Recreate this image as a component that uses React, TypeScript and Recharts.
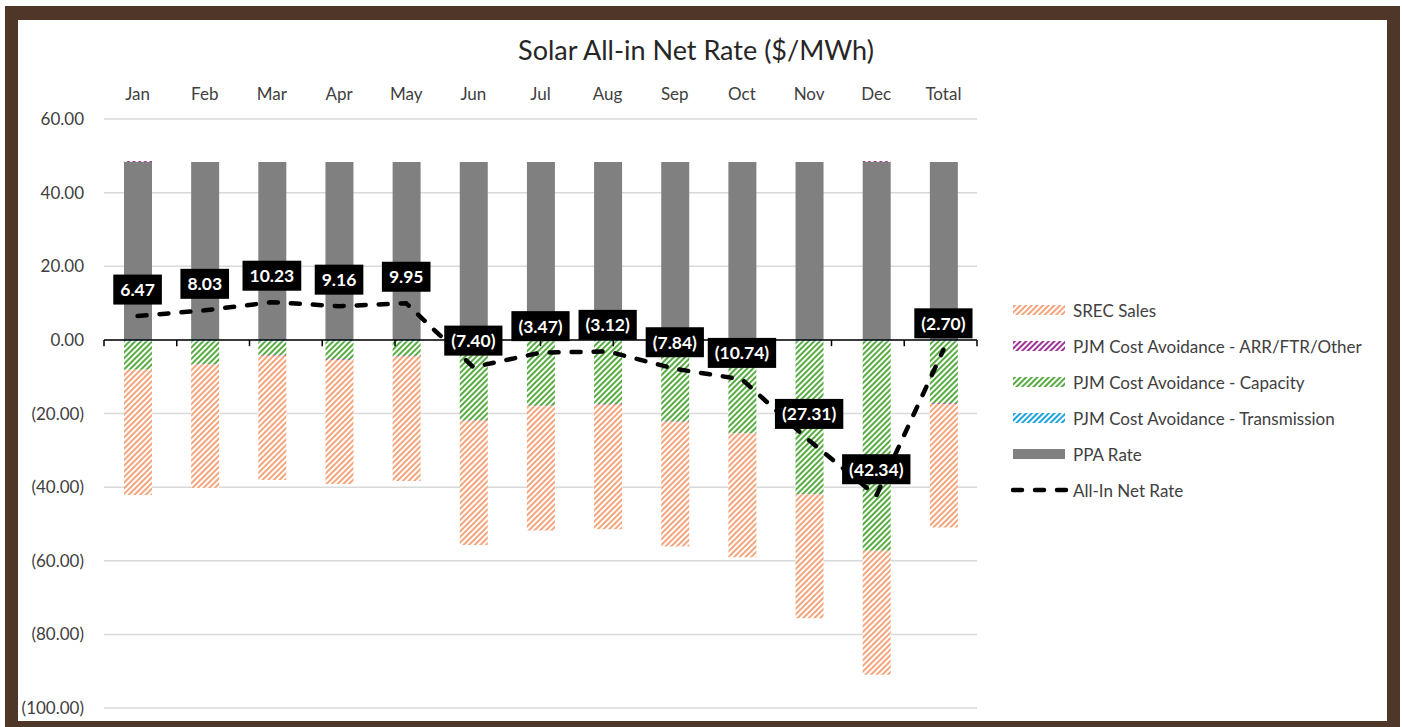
import React from 'react';
import {
  ComposedChart,
  Bar,
  Line,
  XAxis,
  YAxis,
  CartesianGrid,
  ReferenceLine,
  LabelList,
} from 'recharts';

const months = ['Jan', 'Feb', 'Mar', 'Apr', 'May', 'Jun', 'Jul', 'Aug', 'Sep', 'Oct', 'Nov', 'Dec', 'Total'];
const ppaRate = [48.3, 48.3, 48.3, 48.3, 48.3, 48.3, 48.3, 48.3, 48.3, 48.3, 48.3, 48.3, 48.3];
const transmission = [-0.4, -0.4, -0.4, -0.4, -0.4, -0.4, -0.4, -0.4, -0.4, -0.4, -0.4, -0.4, -0.4];
const capacity = [-7.7, -6.2, -3.7, -4.85, -3.95, -21.5, -17.5, -17.0, -21.8, -24.9, -41.5, -56.9, -16.8];
const arrFtrOther = [0.3, -0.1, -0.2, -0.2, -0.2, -0.1, -0.1, -0.2, -0.2, -0.1, -0.1, 0.3, -0.2];
const srecSales = [-34.03, -33.57, -33.77, -33.69, -33.8, -33.7, -33.77, -33.82, -33.74, -33.64, -33.61, -33.64, -33.6];
const allInNetRate = [6.47, 8.03, 10.23, 9.16, 9.95, -7.4, -3.47, -3.12, -7.84, -10.74, -27.31, -42.34, -2.7];
const yTicks = [60, 40, 20, 0, -20, -40, -60, -80, -100];

const data = months.map((m, i) => ({
  month: m,
  ppa: ppaRate[i],
  trans: transmission[i],
  cap: capacity[i],
  arr: arrFtrOther[i],
  srec: srecSales[i],
  net: allInNetRate[i],
}));

const FONT = 'Lato, "Open Sans", sans-serif';
const TEXT = '#404040';

const fmt = (v: number) => (v < 0 ? `(${Math.abs(v).toFixed(2)})` : v.toFixed(2));

let ctx: CanvasRenderingContext2D | null = null;
const measure = (s: string, font: string) => {
  try {
    if (!ctx) ctx = document.createElement('canvas').getContext('2d');
    if (ctx) {
      ctx.font = font;
      return ctx.measureText(s).width;
    }
  } catch (e) {}
  return s.length * 9.5;
};

const NetLabel = (props: any) => {
  const { x, y, value } = props;
  if (x == null || y == null || value == null) return null;
  const s = fmt(Number(value));
  const font = `bold 17.5px ${FONT}`;
  const w = measure(s, font) + 14;
  const h = 30;
  const cy = y - 26.5;
  return (
    <g>
      <rect x={x - w / 2} y={cy - h / 2} width={w} height={h} fill="#000" />
      <text
        x={x}
        y={cy}
        textAnchor="middle"
        dominantBaseline="central"
        fill="#fff"
        fontFamily={FONT}
        fontWeight="bold"
        fontSize={17.5}
      >
        {s}
      </text>
    </g>
  );
};

const legendItems = [
  { name: 'SREC Sales', kind: 'pat', fill: 'url(#pSrec)' },
  { name: 'PJM Cost Avoidance - ARR/FTR/Other', kind: 'pat', fill: 'url(#pArr)' },
  { name: 'PJM Cost Avoidance - Capacity', kind: 'pat', fill: 'url(#pCap)' },
  { name: 'PJM Cost Avoidance - Transmission', kind: 'pat', fill: 'url(#pTrans)' },
  { name: 'PPA Rate', kind: 'solid', fill: '#808080' },
  { name: 'All-In Net Rate', kind: 'line', fill: '#000' },
];

const Pattern = ({ id, color }: { id: string; color: string }) => (
  <pattern id={id} patternUnits="userSpaceOnUse" width="4" height="4" patternTransform="rotate(45)">
    <rect width="4" height="4" fill="#fff" />
    <rect width="2" height="4" fill={color} />
  </pattern>
);

export default function App() {
  const boundaries = Array.from({ length: months.length + 1 }, (_, i) => i);
  return (
    <div style={{ position: 'relative', width: 1402, height: 727 }}>
      <style>{`html,body{margin:0;padding:0;overflow:hidden;background:#fff;}`}</style>
      <svg width="0" height="0" style={{ position: 'absolute' }}>
        <defs>
          <Pattern id="pSrec" color="#F5A57C" />
          <Pattern id="pArr" color="#A0329A" />
          <Pattern id="pCap" color="#56AC40" />
          <Pattern id="pTrans" color="#1FA3DF" />
        </defs>
      </svg>
      <div
        style={{
          position: 'absolute',
          left: 5,
          top: 6,
          width: 1395,
          height: 728,
          boxSizing: 'border-box',
          borderLeft: '13px solid #4E3629',
          borderTop: '14px solid #4E3629',
          borderRight: '13px solid #4E3629',
          borderBottom: '13px solid #4E3629',
          background: '#fff',
        }}
      />
      <div
        style={{
          position: 'absolute',
          left: 396,
          width: 600,
          top: 31,
          textAlign: 'center',
          fontFamily: FONT,
          fontSize: 27,
          color: '#262626',
          lineHeight: '38px',
        }}
      >
        Solar All-in Net Rate ($/MWh)
      </div>
      <div style={{ position: 'absolute', left: 0, top: 0 }}>
        <ComposedChart
          width={1402}
          height={727}
          data={data}
          stackOffset="sign"
          margin={{ top: 79, right: 425, bottom: 19, left: 24 }}
        >
          <CartesianGrid vertical={false} stroke="#D9D9D9" strokeWidth={1.5} />
          <XAxis
            xAxisId="cat"
            dataKey="month"
            orientation="top"
            height={40}
            axisLine={false}
            tickLine={false}
            tickSize={0}
            tickMargin={19}
            tick={{ fill: TEXT, fontFamily: FONT, fontSize: 17 }}
            interval={0}
          />
          <XAxis xAxisId="num" type="number" domain={[0, 13]} hide allowDataOverflow />
          <YAxis
            domain={[-100, 60]}
            ticks={yTicks}
            width={80}
            axisLine={false}
            tickLine={false}
            tickSize={0}
            tickMargin={20}
            tickFormatter={fmt}
            tick={{ fill: TEXT, fontFamily: FONT, fontSize: 17 }}
            interval={0}
            allowDataOverflow
          />
          <Bar xAxisId="cat" dataKey="ppa" stackId="s" fill="#808080" barSize={28} isAnimationActive={false} />
          <Bar xAxisId="cat" dataKey="trans" stackId="s" fill="url(#pTrans)" barSize={28} isAnimationActive={false} />
          <Bar xAxisId="cat" dataKey="cap" stackId="s" fill="url(#pCap)" barSize={28} isAnimationActive={false} />
          <Bar xAxisId="cat" dataKey="arr" stackId="s" fill="url(#pArr)" barSize={28} isAnimationActive={false} />
          <Bar xAxisId="cat" dataKey="srec" stackId="s" fill="url(#pSrec)" barSize={28} isAnimationActive={false} />
          <ReferenceLine xAxisId="cat" y={0} stroke="#000" strokeWidth={1.5} />
          {boundaries.map((b) => (
            <ReferenceLine
              key={b}
              xAxisId="num"
              segment={[
                { x: b, y: 0 },
                { x: b, y: -1.7 },
              ]}
              stroke="#000"
              strokeWidth={1.5}
            />
          ))}
          <Line
            xAxisId="cat"
            dataKey="net"
            type="linear"
            stroke="#000"
            strokeWidth={4.5}
            strokeDasharray="9 13"
            strokeLinecap="round"
            dot={false}
            activeDot={false}
            isAnimationActive={false}
          >
            <LabelList dataKey="net" content={NetLabel} />
          </Line>
        </ComposedChart>
      </div>
      <div style={{ position: 'absolute', left: 1010, top: 292, fontFamily: FONT, fontSize: 17, color: TEXT }}>
        {legendItems.map((it) => (
          <div key={it.name} style={{ display: 'flex', alignItems: 'center', height: 36 }}>
            <svg width={60} height={14} style={{ marginRight: 3 }}>
              {it.kind === 'line' ? (
                <line x1={3} y1={7} x2={56} y2={7} stroke="#000" strokeWidth={4.5} strokeDasharray="9 13" strokeLinecap="round" />
              ) : (
                <rect x={3} y={2} width={52} height={10} fill={it.fill} />
              )}
            </svg>
            <span>{it.name}</span>
          </div>
        ))}
      </div>
    </div>
  );
}
